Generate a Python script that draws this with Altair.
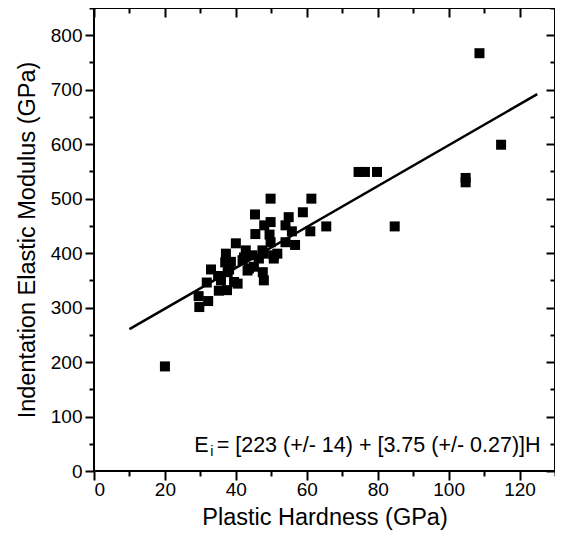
import altair as alt
import pandas as pd

# ---- data ----
hardness = [20.0, 29.7, 29.5, 32.2, 31.8, 33.0, 35.0, 35.2, 37.5, 37.2,
            40.0, 37.7, 40.5, 42.8, 43.7, 38.6, 38.1, 39.5, 35.8, 41.9,
            44.7, 45.1, 43.3, 47.6, 47.9, 46.5, 47.9, 50.7, 50.7, 47.5,
            51.7, 49.8, 54.0, 56.7, 45.5, 49.5, 55.8, 61.0, 48.0, 49.8,
            54.0, 65.5, 45.4, 54.9, 58.9, 49.8, 61.3, 74.6, 76.4, 79.8,
            84.8, 104.8, 104.8, 108.7, 114.8, 42.3, 37.0]
modulus = [192, 301, 321, 312, 346, 370, 358, 331, 332, 399,
           418, 365, 344, 405, 372, 384, 370, 347, 350, 387,
           396, 375, 368, 365, 350, 390, 399, 396, 390, 405,
           399, 420, 420, 415, 435, 434, 440, 440, 451, 457,
           451, 449, 471, 466, 475, 500, 500, 549, 549, 549,
           449, 538, 530, 767, 599, 392, 383]

fit_hardness = [10, 125]
intercept, slope = 223, 3.75
fit_modulus = [intercept + slope * h for h in fit_hardness]

x_major = [0, 20, 40, 60, 80, 100, 120]
x_minor = [10, 30, 50, 70, 90, 110, 130]
y_major = [0, 100, 200, 300, 400, 500, 600, 700, 800]
y_minor = [50, 150, 250, 350, 450, 550, 650, 750, 850]

FONT = "Liberation Sans"

pts = pd.DataFrame({"H": hardness, "E": modulus})
fit = pd.DataFrame({"H": fit_hardness, "E": fit_modulus})
frame = pd.DataFrame({"H": [0], "H2": [130], "E": [0], "E2": [850]})
ann_e = pd.DataFrame({"H": [28.3], "E": [35.0], "t": ["E"]})
ann_i = pd.DataFrame({"H": [32.8], "E": [27.0], "t": ["i"]})
ann_rest = pd.DataFrame({"H": [34.6], "E": [35.0],
                         "t": ["= [223 (+/- 14) + [3.75 (+/- 0.27)]H"]})

xs = alt.Scale(domain=[0, 130], nice=False, zero=False)
ys = alt.Scale(domain=[0, 850], nice=False, zero=False)


def tick_axis(orient, values, size, offset=0):
    return alt.Axis(orient=orient, values=values, tickSize=size, domain=False,
                    grid=False, labels=False, tickColor="black", tickWidth=2,
                    offset=offset)


points = alt.Chart(pts).mark_square(size=100, color="black", opacity=1).encode(
    x=alt.X("H:Q", scale=xs, title="Plastic Hardness (GPa)",
            axis=alt.Axis(orient="bottom", values=x_major, tickSize=9,
                          tickWidth=2, tickColor="black", domain=False,
                          grid=False, labelFontSize=19, labelPadding=0,
                          labelFont=FONT, labelColor="black",
                          titleFont=FONT, titleColor="black",
                          titleFontWeight="normal",
                          titleFontSize=23.5, titlePadding=6)),
    y=alt.Y("E:Q", scale=ys, title="Indentation Elastic Modulus (GPa)",
            axis=alt.Axis(orient="left", values=y_major, tickSize=9,
                          tickWidth=2, tickColor="black", domain=False,
                          grid=False, labelFontSize=19, labelPadding=3,
                          labelFont=FONT, labelColor="black",
                          titleFont=FONT, titleColor="black",
                          titleFontWeight="normal",
                          titleFontSize=23.5, titlePadding=11)),
)

box = alt.Chart(frame).mark_rect(filled=False, stroke="black",
                                 strokeWidth=2).encode(
    x=alt.X("H:Q", scale=xs, axis=None), x2="H2:Q",
    y=alt.Y("E:Q", scale=ys, axis=None), y2="E2:Q",
)

line = alt.Chart(fit).mark_line(color="black", strokeWidth=2.5).encode(
    x=alt.X("H:Q", scale=xs, title="", axis=tick_axis("bottom", x_minor, 5)),
    y=alt.Y("E:Q", scale=ys, title="", axis=tick_axis("left", y_minor, 5)),
)

t_e = alt.Chart(ann_e).mark_text(font=FONT, fontSize=21.5, align="left",
                                 baseline="alphabetic", color="black").encode(
    x=alt.X("H:Q", scale=xs, title="", axis=tick_axis("top", x_major, 9, -9)),
    y=alt.Y("E:Q", scale=ys, title="", axis=tick_axis("right", y_major, 9, -9)),
    text="t:N",
)

t_i = alt.Chart(ann_i).mark_text(font=FONT, fontSize=14, align="left",
                                 baseline="alphabetic", color="black").encode(
    x=alt.X("H:Q", scale=xs, title="", axis=tick_axis("top", x_minor, 5, -5)),
    y=alt.Y("E:Q", scale=ys, title="", axis=tick_axis("right", y_minor, 5, -5)),
    text="t:N",
)

t_rest = alt.Chart(ann_rest).mark_text(font=FONT, fontSize=21.5, align="left",
                                       baseline="alphabetic", color="black").encode(
    x=alt.X("H:Q", scale=xs, axis=None),
    y=alt.Y("E:Q", scale=ys, axis=None),
    text="t:N",
)

chart = alt.layer(box, points, line, t_e, t_i, t_rest).resolve_axis(
    x="independent", y="independent"
).properties(
    width=461, height=463,
    autosize=alt.AutoSizeParams(type="none"),
    padding={"left": 86, "top": 0, "right": 0, "bottom": 70},
    background="white",
).configure_view(
    stroke=None
)

chart.save("out.html", embed_options={"renderer": "svg", "actions": False})
